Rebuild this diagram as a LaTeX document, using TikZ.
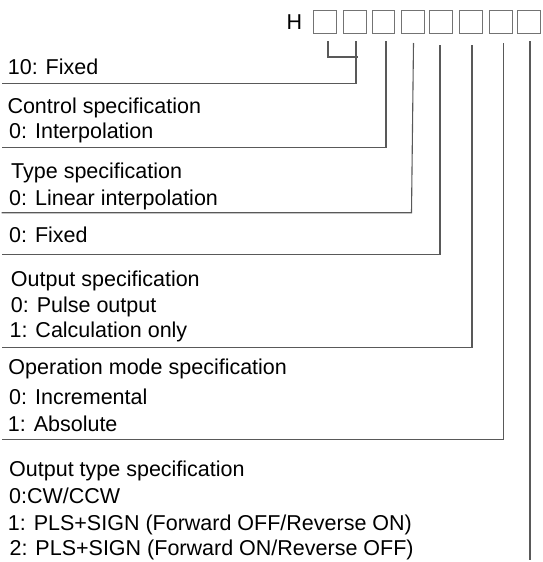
\documentclass[tikz,border=0pt]{standalone}
\usepackage{fontspec}
\setmainfont{Liberation Sans}

\begin{document}
\begin{tikzpicture}[x=1pt,y=-1pt,
  every node/.style={inner sep=0pt,font=\fontsize{21.5}{25}\selectfont},
  txt/.style={anchor=base west},
  digit/.style={draw=black!55,line width=0.9pt,minimum width=22.5pt,minimum height=23pt,anchor=north west},
  lead/.style={draw=black!65,line width=1.1pt}]
  \useasboundingbox (0,0) rectangle (542,562);
  % code header
  \node[txt] (h) at (286.5,29.3) {H};
  \foreach \i/\x in {1/313.3,2/343.3,3/371.7,4/401,5/429.3,6/459.3,7/489,8/517.3}
    \node[digit] (d\i) at (\x,10) {};
  % lead line tops and rule ends
  \coordinate (t1) at (328,41);
  \coordinate (t2) at (356,41);
  \coordinate (t3) at (386,41);
  \coordinate (t4) at (413.5,43);
  \coordinate (t5) at (440,45);
  \coordinate (t6) at (472,45);
  \coordinate (t7) at (503.5,43);
  \coordinate (t8) at (530,41);
  \coordinate (j1) at (358,57);
  \coordinate (r2) at (1.5,83.3);
  \coordinate (r3) at (1.5,147.3);
  \coordinate (r4) at (1.5,212.7);
  \coordinate (r5) at (1.5,254.5);
  \coordinate (r6) at (1.5,347.3);
  \coordinate (r7) at (1.5,439.5);
  \coordinate (r8) at (530,560);
  \draw[lead] (t1) |- (j1);
  \draw[lead] (t2) |- (r2);
  \draw[lead] (t3) |- (r3);
  \draw[lead] (t4) -- (411.5,212.7) -- (r4);
  \draw[lead] (t5) |- (r5);
  \draw[lead] (t6) |- (r6);
  \draw[lead] (t7) |- (r7);
  \draw[lead] (t8) -- (r8);
  % descriptions
  \node[txt] (fix) at (7.7,74) {10: Fixed};
  \node[txt] (ctl) at (7.3,113.3) {Control specification};
  \node[txt] (ctl0) at (9,138.3) {0: Interpolation};
  \node[txt] (typ) at (11,178.3) {Type specification};
  \node[txt] (typ0) at (9,205) {0: Linear interpolation};
  \node[txt] (fix0) at (9,242.7) {0: Fixed};
  \node[txt] (outs) at (10.7,286.7) {Output specification};
  \node[txt] (outs0) at (10.7,312.7) {0: Pulse output};
  \node[txt] (outs1) at (9.4,337.3) {1: Calculation only};
  \node[txt] (opm) at (8.3,374) {Operation mode specification};
  \node[txt] (opm0) at (9,404) {0: Incremental};
  \node[txt] (opm1) at (7.7,431) {1: Absolute};
  \node[txt] (otp) at (9,476.7) {Output type specification};
  \node[txt] (otp0) at (9,503.3) {0:CW/CCW};
  \node[txt] (otp1) at (7.7,530) {1: PLS+SIGN (Forward OFF/Reverse ON)};
  \node[txt] (otp2) at (9.4,555) {2: PLS+SIGN (Forward ON/Reverse OFF)};
\end{tikzpicture}
\end{document}
